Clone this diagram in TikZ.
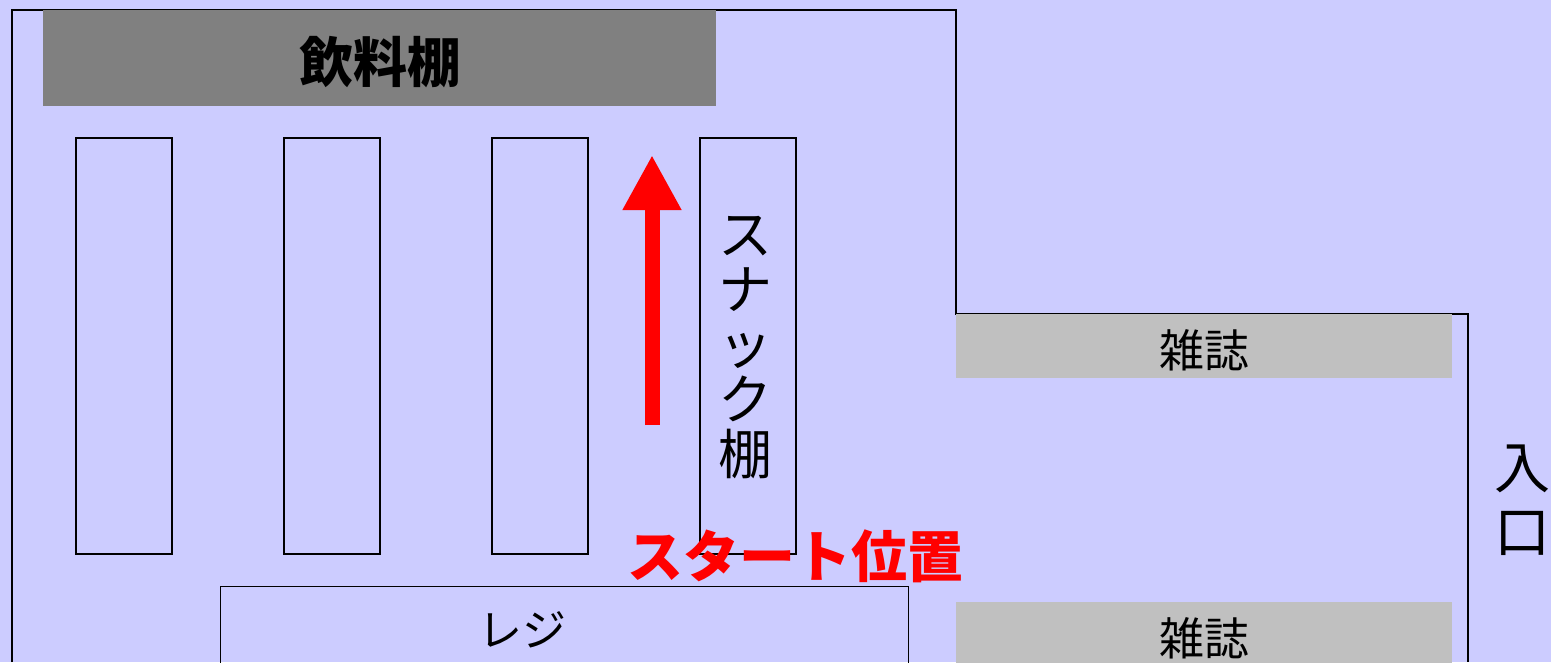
\documentclass[tikz,border=0pt]{standalone}
\usepackage{fontspec}
\newfontfamily\jpfont{Noto Sans CJK JP}
\usepackage{tikz}
\usetikzlibrary{arrows.meta}
\usetikzlibrary{positioning}
\definecolor{floor}{HTML}{CCCCFF}
\definecolor{darkshelf}{HTML}{808080}
\definecolor{lightshelf}{HTML}{C0C0C0}
\tikzset{
  % plan styles
  shelf/.style={draw, line width=1.2pt, rectangle, minimum width=96pt, minimum height=416pt, inner sep=0pt},
  bigshelf/.style={fill=#1, rectangle, inner sep=0pt},
  jplabel/.style={font=\jpfont\fontsize{#1}{#1}\selectfont, inner sep=0pt},
  route/.style={draw=red, line width=15pt, -{Triangle[width=55pt,length=55pt]}}
}

\begin{document}
\begin{tikzpicture}[x=1pt, y=-1pt]
    % Canvas
    \useasboundingbox (0,0) rectangle (1551,662);
    \clip (0,0) rectangle (1551,662);
    \fill[floor] (0,0) rectangle (1551,662);

    % Store outline
    \draw[line width=1.2pt] (12,662) -- (12,10) -- (956,10) -- (956,314) -- (1468,314) -- (1468,662);

    % Define nodes
    \node[bigshelf=darkshelf, minimum width=673pt, minimum height=96pt] (drinks) at (379.5,58) {};
    \node[jplabel=54pt, font=\jpfont\bfseries\fontsize{54pt}{54pt}\selectfont] (drinkstext) at (380,62) {飲料棚};

    \node[shelf] (shelfa) at (124,346) {};
    \node[shelf] (shelfb) at (332,346) {};
    \node[shelf] (shelfc) at (540,346) {};
    \node[shelf] (snack) at (748,346) {};
    \node[jplabel=54pt, align=center, font=\jpfont\fontsize{54pt}{55pt}\selectfont] (snacktext) at (745,348) {ス\\ナ\\ッ\\ク\\棚};

    \node[draw, line width=1.2pt, rectangle, minimum width=688pt, minimum height=120pt, inner sep=0pt, anchor=north west] (register) at (220,586) {};
    \node[jplabel=44pt] (registertext) at (522,630) {レジ};

    \node[bigshelf=lightshelf, minimum width=496pt, minimum height=64pt] (magtop) at (1204,346) {};
    \node[jplabel=45pt] (magtoptext) at (1204,350) {雑誌};
    \node[bigshelf=lightshelf, minimum width=496pt, minimum height=100pt, anchor=north] (magbottom) at (1204,602) {};
    \node[jplabel=45pt] (magbottomtext) at (1204,638) {雑誌};

    \node[jplabel=56pt, align=center, font=\jpfont\fontsize{56pt}{64pt}\selectfont] (entrance) at (1522,500) {入\\口};

    \node[jplabel=56pt, font=\jpfont\bfseries\fontsize{56pt}{56pt}\selectfont, text=red] (start) at (795,556) {スタート位置};

    % Route
    \coordinate (from) at (652,425);
    \coordinate (to) at (652,155);
    \path[route] (from) -- (to);
\end{tikzpicture}
\end{document}
